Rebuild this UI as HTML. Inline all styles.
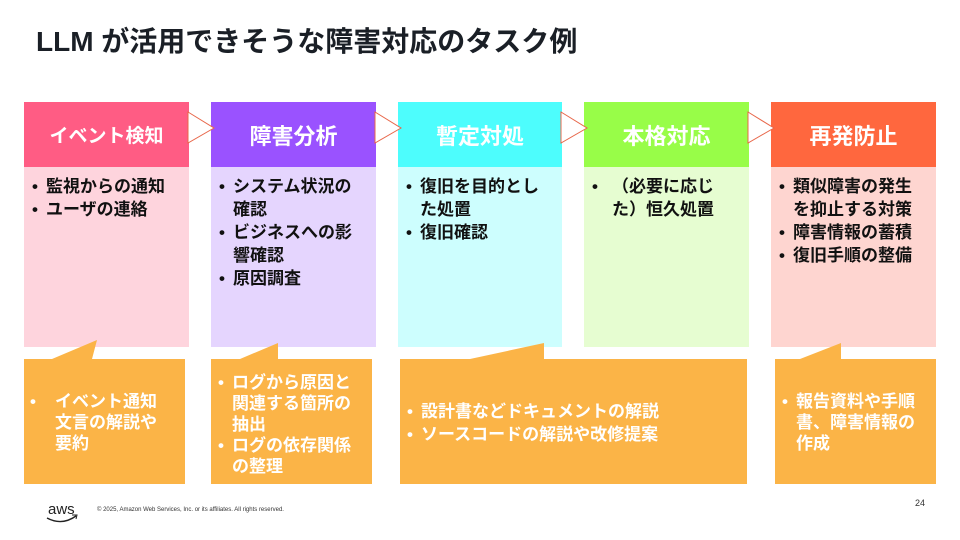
<!DOCTYPE html>
<html><head><meta charset="utf-8"><style>
*{margin:0;padding:0;box-sizing:border-box}
body{width:960px;height:540px;background:#fff;position:relative;overflow:hidden;font-family:"Liberation Sans","Noto Sans CJK JP",sans-serif}
.a{position:absolute}
.t{left:36px;top:20px;font-size:28px;font-weight:bold;color:#1a1f26;white-space:nowrap;letter-spacing:0px}
.h{height:65px;top:102px;color:#fff;font-size:22px;font-weight:bold;display:flex;align-items:center;justify-content:center}
.b{top:167px;height:180px;padding:8px 14px 0 8px;font-size:17px;font-weight:bold;color:#111;line-height:23px}
ul{list-style:none}
li{position:relative;padding-left:14px}
li:before{content:"•";position:absolute;left:0}
.c{color:#fff;font-size:17px;font-weight:bold;line-height:21px}
</style></head><body>
<div class="a t">LLM が活用できそうな障害対応のタスク例</div>

<div class="a h" style="left:24px;width:165px;background:#ff5c84;font-size:19px">イベント検知</div>
<div class="a h" style="left:211px;width:165px;background:#9a52ff">障害分析</div>
<div class="a h" style="left:398px;width:164px;background:#4dfdfd">暫定対処</div>
<div class="a h" style="left:584px;width:165px;background:#98fd48">本格対応</div>
<div class="a h" style="left:771px;width:165px;background:#ff673e">再発防止</div>

<div class="a b" style="left:24px;width:165px;background:#fed4dd"><ul><li>監視からの通知</li><li>ユーザの連絡</li></ul></div>
<div class="a b" style="left:211px;width:165px;background:#e5d5fe"><ul><li>システム状況の<br>確認</li><li>ビジネスへの影<br>響確認</li><li>原因調査</li></ul></div>
<div class="a b" style="left:398px;width:164px;background:#cdfefe"><ul><li>復旧を目的とし<br>た処置</li><li>復旧確認</li></ul></div>
<div class="a b" style="left:584px;width:165px;background:#e6fdd1"><ul><li style="padding-left:20px">（必要に応じ<br>た）恒久処置</li></ul></div>
<div class="a b" style="left:771px;width:165px;background:#fed5d0"><ul><li>類似障害の発生<br>を抑止する対策</li><li>障害情報の蓄積</li><li>復旧手順の整備</li></ul></div>

<svg class="a" style="left:0;top:0" width="960" height="540">
<g fill="#fff" stroke="#e8674a" stroke-width="1">
<polygon points="188,112 214,128 188,143"/>
<polygon points="375,112 401,128 375,143"/>
<polygon points="561,112 587,128 561,143"/>
<polygon points="748,112 774,128 748,143"/>
</g>
<g fill="#fbb447">
<path d="M24,359 H52 L97,340 L92,359 H185 V484 H24 Z"/>
<path d="M211,359 H240 L278,343 L278,359 H372 V484 H211 Z"/>
<path d="M400,359 H470 L544,343 L544,359 H747 V484 H400 Z"/>
<path d="M775,359 H800 L841,343 L841,359 H936 V484 H775 Z"/>
</g>
<text x="48" y="514" font-size="15" fill="#222" font-family="Liberation Sans,sans-serif">aws</text>
<path d="M47,518 Q62,526 76,516" stroke="#222" stroke-width="1.4" fill="none"/>
<path d="M72,515 L77,515 L76,519" stroke="#222" stroke-width="1" fill="none"/>
</svg>

<div class="a c" style="left:30px;top:391px;width:155px"><ul><li style="padding-left:25px">イベント通知<br>文言の解説や<br>要約</li></ul></div>
<div class="a c" style="left:218px;top:372px;width:154px"><ul><li>ログから原因と<br>関連する箇所の<br>抽出</li><li>ログの依存関係<br>の整理</li></ul></div>
<div class="a c" style="left:407px;top:400px;width:340px;line-height:23px"><ul><li>設計書などドキュメントの解説</li><li>ソースコードの解説や改修提案</li></ul></div>
<div class="a c" style="left:782px;top:391px;width:154px"><ul><li>報告資料や手順<br>書、障害情報の<br>作成</li></ul></div>

<div class="a" style="left:97px;top:507px;font-size:6px;color:#333;white-space:nowrap">© 2025, Amazon Web Services, Inc. or its affiliates. All rights reserved.</div>
<div class="a" style="left:915px;top:498px;font-size:9px;color:#333">24</div>
</body></html>
